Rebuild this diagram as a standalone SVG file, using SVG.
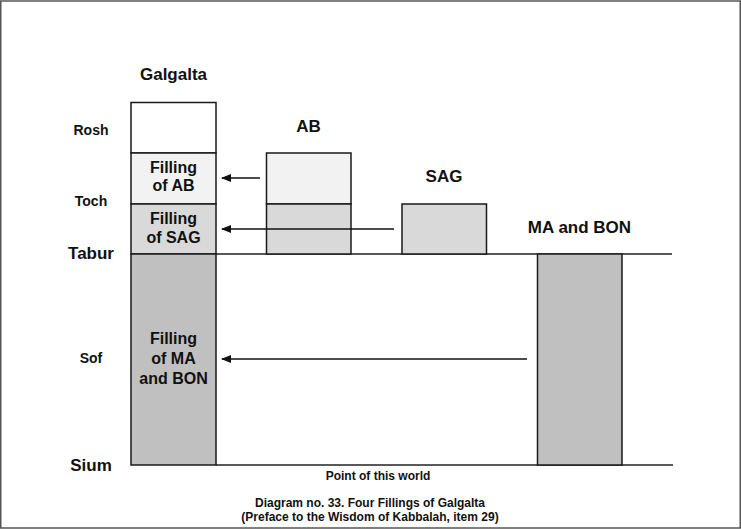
<svg xmlns="http://www.w3.org/2000/svg" width="741" height="529" viewBox="0 0 741 529">
<style>
text{font-family:"Liberation Sans",Arial,sans-serif;font-weight:bold;fill:#111;text-anchor:middle}
.box{stroke:#1a1a1a;stroke-width:1.5}
.l{font-size:14px}
.b{font-size:17px}
.f{font-size:16px}
.s{font-size:12px}
.ln{stroke:#222;stroke-width:1.5;fill:none}
.ar{stroke:#111;stroke-width:1.3;fill:none;marker-end:url(#ah)}
</style>
<defs>
<marker id="ah" viewBox="0 0 10 8" refX="9" refY="4" markerWidth="10" markerHeight="8" markerUnits="userSpaceOnUse" orient="auto">
<path d="M0,0 L10,4 L0,8 Z" fill="#111"/>
</marker>
</defs>
<rect x="0.75" y="1" width="739.5" height="527" fill="#fff" stroke="#555" stroke-width="1.5"/>
<g id="baselines">
<line class="ln" x1="216" y1="254" x2="672" y2="254"/>
<line class="ln" x1="216" y1="465" x2="673" y2="465"/>
</g>
<g id="galgalta">
<text class="b" x="173.5" y="80">Galgalta</text>
<rect class="box" x="131" y="102.5" width="85" height="50.5" fill="#fff"/>
<rect class="box" x="131" y="153" width="85" height="51" fill="#f2f2f2"/>
<rect class="box" x="131" y="204" width="85" height="50" fill="#d9d9d9"/>
<rect class="box" x="131" y="254" width="85" height="211" fill="#c0c0c0"/>
<text class="f" x="173.5" y="172.5">Filling</text>
<text class="f" x="173.5" y="191">of AB</text>
<text class="f" x="173.5" y="223.5">Filling</text>
<text class="f" x="173.5" y="242.5">of SAG</text>
<text class="f" x="173.5" y="344">Filling</text>
<text class="f" x="173.5" y="363.5">of MA</text>
<text class="f" x="173.5" y="383.5">and BON</text>
</g>
<g id="levels">
<text class="l" x="91" y="135">Rosh</text>
<text class="l" x="91" y="205.5">Toch</text>
<text class="b" x="91" y="259">Tabur</text>
<text class="l" x="91" y="363">Sof</text>
<text class="b" x="91" y="471">Sium</text>
</g>
<g id="ab">
<text class="b" x="308.5" y="131.5">AB</text>
<rect class="box" x="266.5" y="153" width="84.5" height="51" fill="#f2f2f2"/>
<rect class="box" x="266.5" y="204" width="84.5" height="50" fill="#d9d9d9"/>
</g>
<g id="sag">
<text class="b" x="444" y="181.5">SAG</text>
<rect class="box" x="402" y="204" width="84.5" height="50" fill="#d9d9d9"/>
</g>
<g id="maandbon">
<text class="b" x="579.5" y="232.5">MA and BON</text>
<rect class="box" x="537.5" y="254" width="84.5" height="211" fill="#c0c0c0"/>
</g>
<g id="connectors">
<line class="ar" x1="260" y1="178" x2="222" y2="178"/>
<line class="ar" x1="394" y1="229" x2="222" y2="229"/>
<line class="ar" x1="527" y1="359" x2="222" y2="359"/>
</g>
<g id="captions">
<text class="s" x="378" y="479.5">Point of this world</text>
<text class="s" x="370" y="506.5">Diagram no. 33. Four Fillings of Galgalta</text>
<text class="s" x="370" y="521">(Preface to the Wisdom of Kabbalah, item 29)</text>
</g>
</svg>
